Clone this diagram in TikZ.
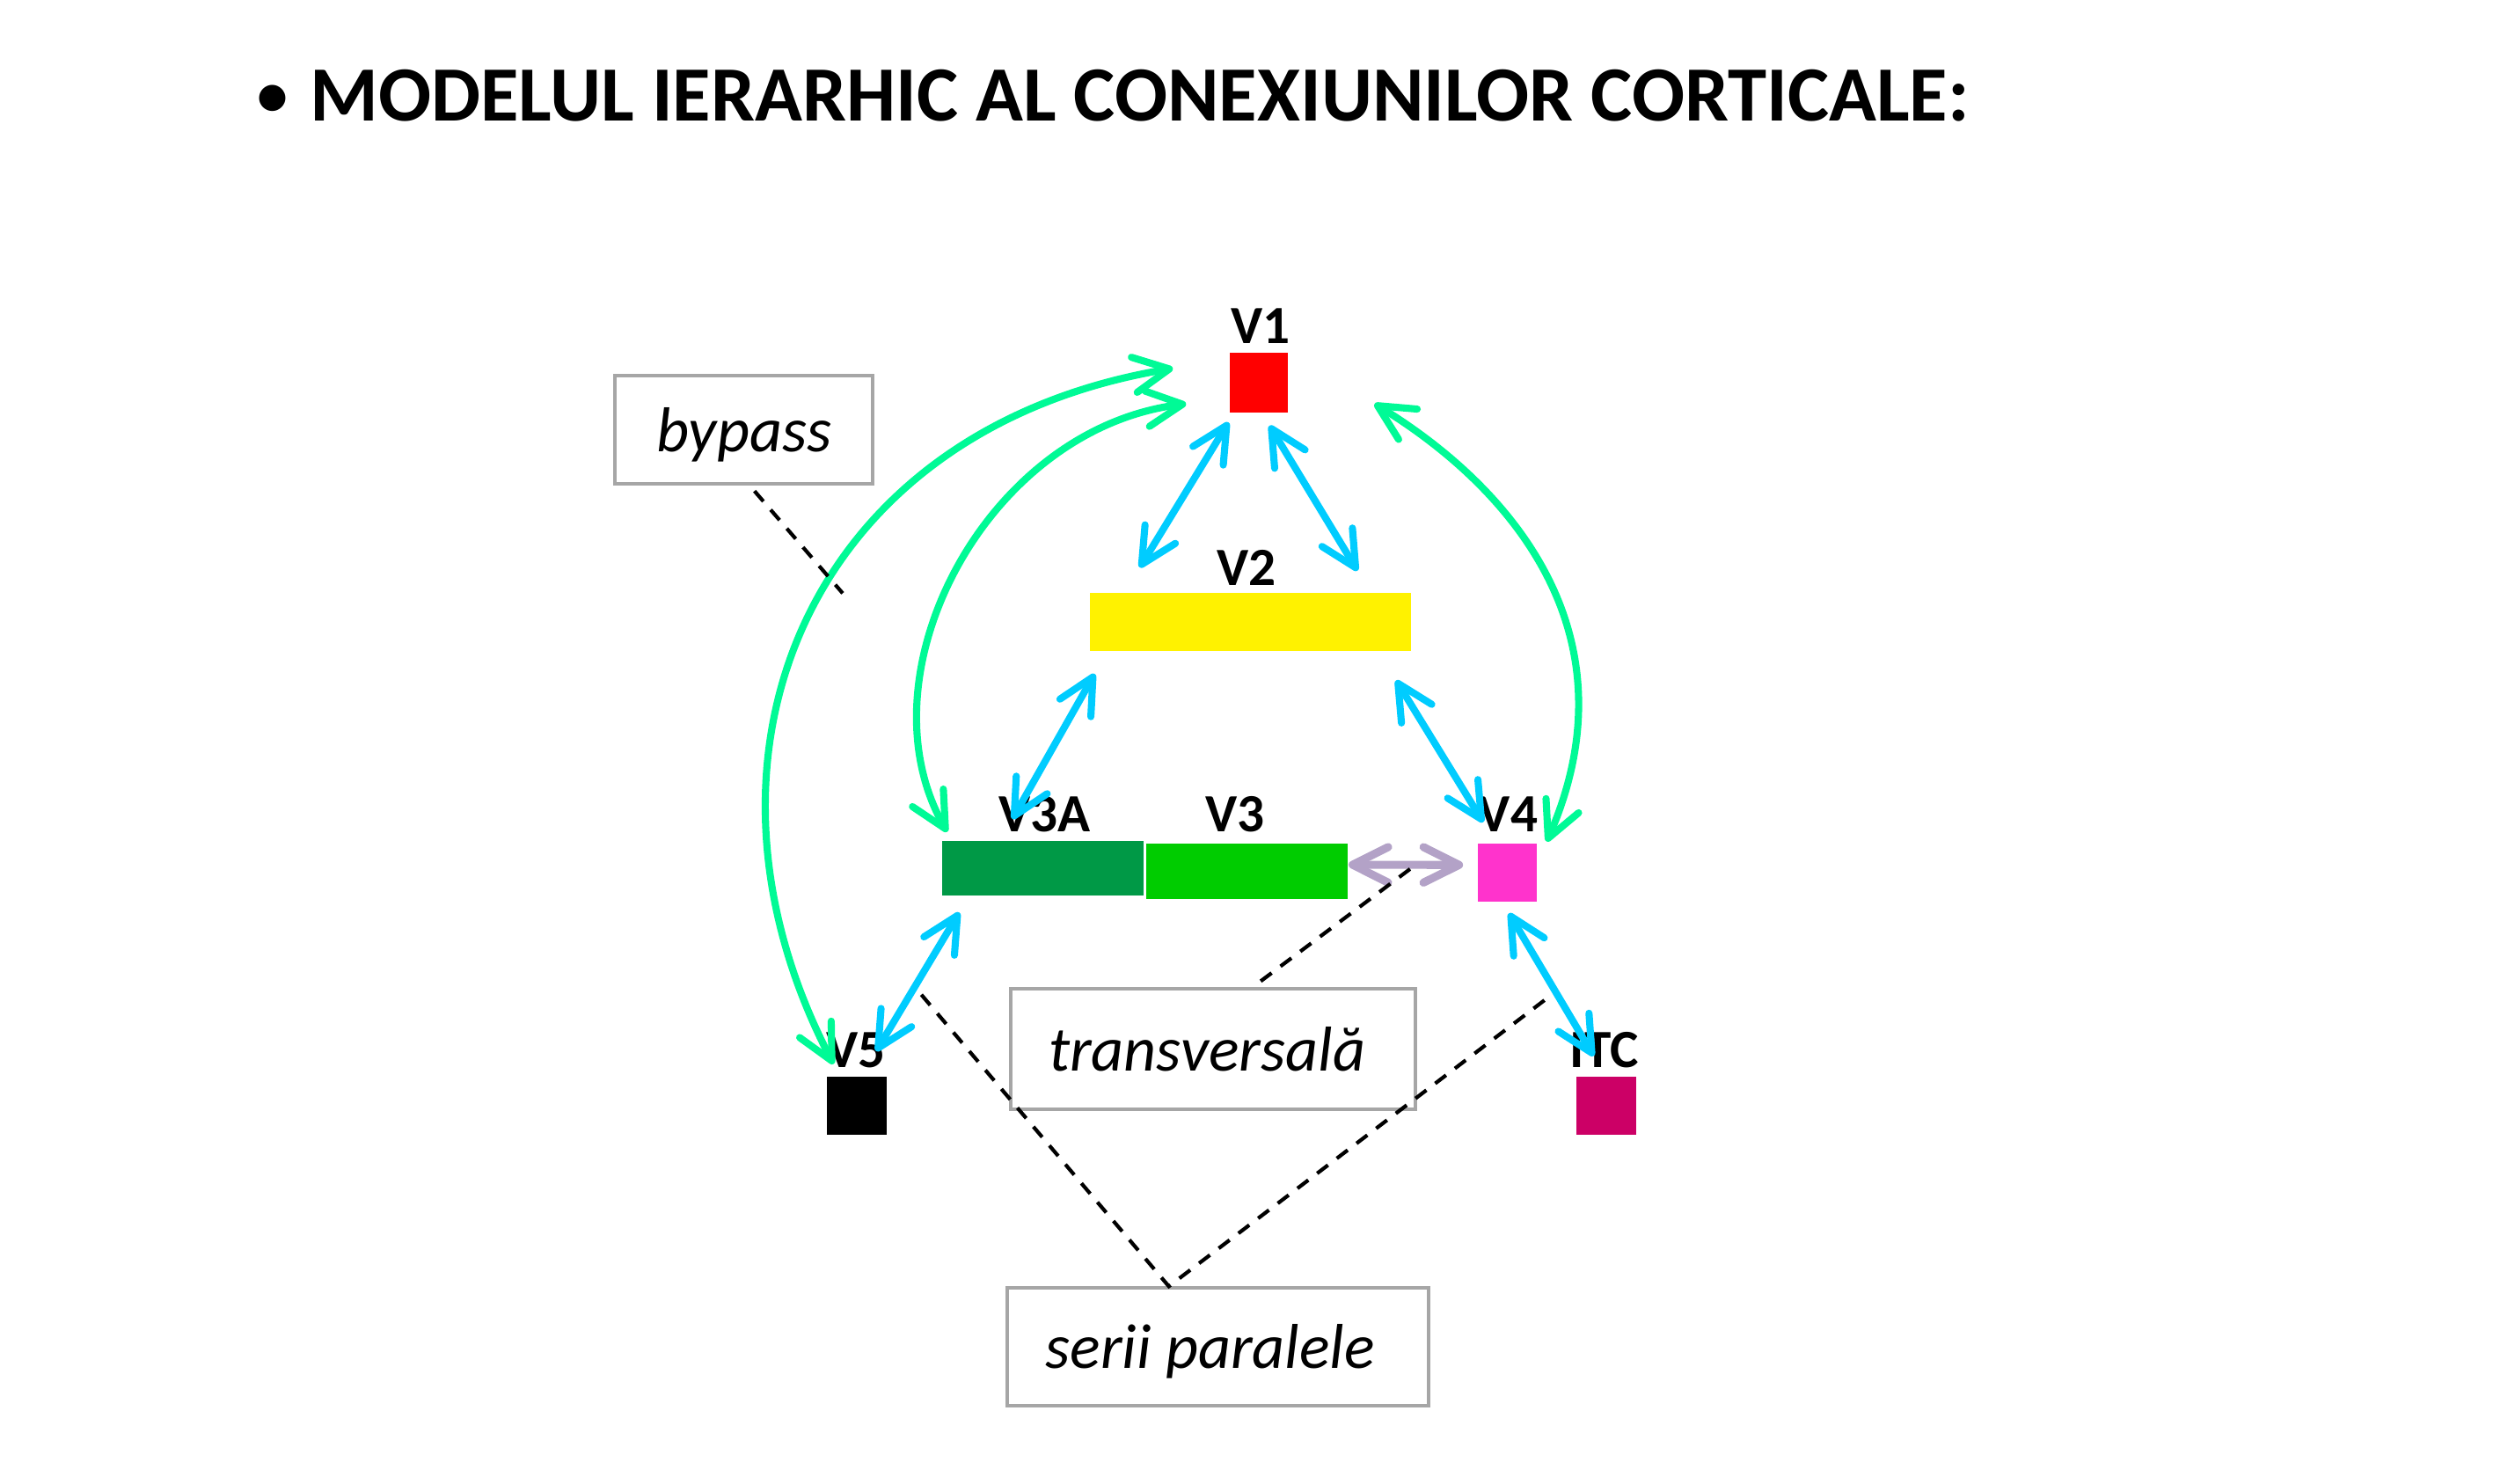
\documentclass[tikz,border=0pt]{standalone}
\usepackage{fontspec}
\setmainfont{Carlito}
\usetikzlibrary{arrows.meta,calc}
\definecolor{cblue}{RGB}{0,204,255}
\definecolor{cmint}{RGB}{0,250,150}
\definecolor{cpurple}{RGB}{179,162,199}
\definecolor{cnote}{RGB}{166,166,166}
\definecolor{cdgreen}{RGB}{0,153,70}
\definecolor{cgreen}{RGB}{0,204,0}
\definecolor{cmagenta}{RGB}{255,51,204}
\definecolor{ccrimson}{RGB}{204,0,102}
\def\u{0.018327cm}
\tikzset{
  area/.style={inner sep=0pt, outer sep=0pt},
  lbl/.style={font=\fontsize{17.4}{20}\selectfont\bfseries, inner sep=0pt, anchor=base},
  note/.style={draw=cnote, line width=1.15pt, inner sep=0pt, text height=14pt, text depth=0pt, font=\fontsize{20.5}{24}\selectfont\itshape},
  barbs/.style={{Straight Barb[length=11.5pt,width=11.5pt,round]}-{Straight Barb[length=11.5pt,width=11.5pt,round]}},
  bconn/.style={barbs, draw=cblue, line width=2.3pt},
  gconn/.style={barbs, draw=cmint, line width=2.3pt},
  pconn/.style={barbs, draw=cpurple, line width=2.6pt},
  lead/.style={draw=black, line width=1.2pt, dash pattern=on 4.4pt off 3.6pt}
}
\begin{document}
\begin{tikzpicture}[x=0.018327cm, y=-0.018327cm]
\useasboundingbox (3,2) rectangle (1563,922);
% title
\node[font=\fontsize{20}{24}\selectfont\bfseries, inner sep=0pt, anchor=base] (bullet) at (171.9,74) {•};
\node[font=\fontsize{25.3}{30}\selectfont\bfseries, inner sep=0pt, anchor=base west] (title) at (195,77) {MODELUL IERARHIC AL CONEXIUNILOR CORTICALE:};
% areas
\node[area, fill=red, minimum width=36*\u, minimum height=37*\u] (v1) at (784,239.5) {};
\node[area, fill=yellow, minimum width=199*\u, minimum height=36*\u] (v2) at (778.5,388) {};
\node[area, fill=cdgreen, minimum width=125*\u, minimum height=34*\u] (v3a) at (650,540.5) {};
\node[area, fill=cgreen, minimum width=125*\u, minimum height=34*\u] (v3) at (776.5,542.4) {};
\node[area, fill=cmagenta, minimum width=37*\u, minimum height=36*\u] (v4) at (938,543.5) {};
\node[area, fill=black, minimum width=37*\u, minimum height=36*\u] (v5) at (534.5,688) {};
\node[area, fill=ccrimson, minimum width=37*\u, minimum height=36*\u] (itc) at (999.5,688) {};
% labels
\node[lbl] (lv1) at (785,215) {V1};
\node[lbl] (lv2) at (776,365) {V2};
\node[lbl] (lv3a) at (651,518) {V3A};
\node[lbl] (lv3) at (769,518) {V3};
\node[lbl] (lv4) at (938.5,518) {V4};
\node[lbl] (lv5) at (534,664) {V5};
\node[lbl] (litc) at (998,664) {ITC};
% notes
\node[note, minimum width=160*\u, minimum height=67*\u] (bypass) at (464.5,268.5) {bypass};
\node[note, minimum width=251*\u, minimum height=75*\u] (trans) at (755.5,652.7) {transversală\hspace*{4pt}};
\node[note, minimum width=261*\u, minimum height=73*\u] (serii) at (758.5,837.5) {serii paralele\hspace*{5pt}};
% blue connectors
\draw[bconn] ($(v1)+(-19,24.5)$) -- ($(v2)+(-68.5,-34)$);
\draw[bconn] ($(v1)+(6.5,26.5)$) -- ($(v2)+(66.5,-32)$);
\draw[bconn] ($(v2)+(-96.5,32)$) -- ($(v3a)+(-19,-30.5)$);
\draw[bconn] ($(v2)+(90.5,36)$) -- ($(v4)+(-15,-31.5)$);
\draw[bconn] ($(v3a)+(-52,27.5)$) -- ($(v5)+(12,-34)$);
\draw[bconn] ($(v4)+(1,25)$) -- ($(itc)+(-8,-31)$);
% purple
\draw[pconn] ($(v3)+(63,-4)$) -- ($(v4)+(-27.5,-5)$);
% green bypass curves
\draw[gconn] ($(v5)+(-14.5,-26)$) .. controls (420,470) and (505,268) .. ($(v1)+(-53.5,-9)$);
\draw[gconn] ($(v3a)+(-59.5,-22.5)$) .. controls (535,420) and (615,268) .. ($(v1)+(-45.3,13)$);
\draw[gconn] ($(v1)+(71.6,13)$) .. controls (940.6,304.5) and (1018.4,395.2) .. ($(v4)+(24.4,-19.5)$);
% leader lines
\coordinate (bypassend) at (525.7,370);
\coordinate (seriiL) at (574.5,619);
\coordinate (seriiR) at (965.5,619);
\draw[lead] ($(bypass.south)+(6.5,3.5)$) -- (bypassend);
\draw[lead] ($(trans.north)+(29.5,-3.5)$) -- ($(v4)+(-57,-5)$);
\draw[lead] (seriiL) -- ($(serii.north)+(-30.5,0)$) -- (seriiR);
\end{tikzpicture}
\end{document}
